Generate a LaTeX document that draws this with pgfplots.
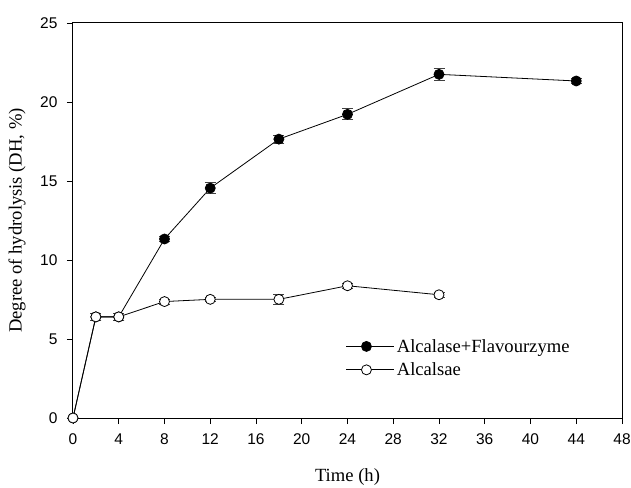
\documentclass[border=0pt]{standalone}
\usepackage{fontspec}
\setmainfont{Liberation Serif}
\newfontfamily\arialf{Liberation Sans}
\usepackage{pgfplots}
\pgfplotsset{compat=1.18}
\begin{document}
\begin{tikzpicture}
\begin{axis}[
  scale only axis,
  width=549pt, height=395pt,
  xmin=0, xmax=48, ymin=0, ymax=25,
  xtick={0,4,...,48}, ytick={0,5,...,25},
  tick align=outside, major tick length=6pt,
  tick style={black, line width=0.8pt},
  axis line style={line width=1pt},
  xtick pos=bottom, ytick pos=left,
  ticklabel style={font=\arialf\fontsize{15.5}{15.5}\selectfont},
  /pgf/number format/assume math mode=true,
  xticklabel style={yshift=-6pt},
  yticklabel style={xshift=-6pt},
  xlabel={Time (h)}, ylabel={Degree of hydrolysis (DH, \%)},
  label style={font=\fontsize{18.6}{18.6}\selectfont},
  x label style={at={(axis description cs:0.5,-0.128)}, anchor=north, inner sep=0pt},
  y label style={at={(axis description cs:-0.086,0.5)}, anchor=south, rotate=0, inner sep=0pt},
  legend style={draw=none, fill=none, at={(axis description cs:0.497,0.205)}, anchor=north west,
    font=\fontsize{18.6}{18.6}\selectfont, row sep=5pt, inner sep=0pt,
    nodes={inner sep=2pt}},
  legend cell align=left,
  legend image code/.code={\draw[mark repeat=2,mark phase=2,#1] plot coordinates {(0pt,0pt)(20pt,0pt)(40pt,0pt)};
    \path (40pt,0pt) -- (48pt,0pt);},
  every axis plot/.append style={line width=0.8pt},
  error bars/error bar style={line width=0.8pt, black!75},
  error bars/error mark options={rotate=90, mark size=5.5pt, line width=0.8pt, black!75},
]
\coordinate (O) at (rel axis cs:0,0);
\addplot[black, mark=*, mark size=5pt, mark options={fill=black},
  error bars/.cd, y dir=both, y explicit] coordinates {
(0,0) +- (0,0)
(2,6.4) +- (0,0.2)
(4,6.4) +- (0,0.2)
(8,11.33) +- (0,0.15)
(12,14.55) +- (0,0.35)
(18,17.65) +- (0,0.25)
(24,19.22) +- (0,0.35)
(32,21.75) +- (0,0.38)
(44,21.33) +- (0,0.15)
};
\addlegendentry{Alcalase+Flavourzyme}
\addplot[black, mark=*, mark size=5pt, mark options={fill=white},
  error bars/.cd, y dir=both, y explicit] coordinates {
(0,0) +- (0,0)
(2,6.4) +- (0,0.2)
(4,6.4) +- (0,0.2)
(8,7.37) +- (0,0.15)
(12,7.51) +- (0,0.1)
(18,7.51) +- (0,0.3)
(24,8.37) +- (0,0.15)
(32,7.8) +- (0,0.15)
};
\addlegendentry{Alcalsae}
\end{axis}
\pgfresetboundingbox
\path (O) ++(-73pt,-69pt) rectangle ++(631pt,487pt);
\end{tikzpicture}
\end{document}
